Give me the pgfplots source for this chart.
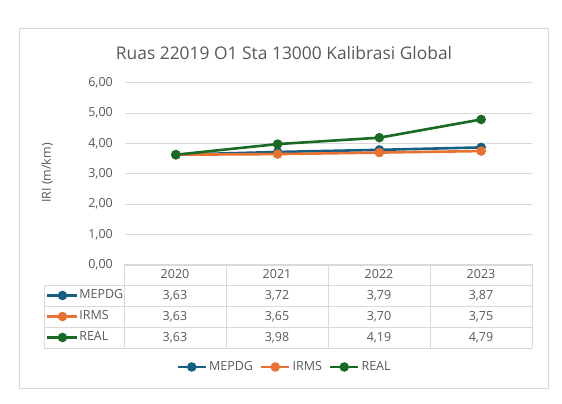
\documentclass[border=0pt]{standalone}
\usepackage{pgfplots}
\pgfplotsset{compat=1.18}
\usepackage{fontspec}
\setmainfont{Open Sans}
\definecolor{cblue}{HTML}{156082}
\definecolor{corange}{HTML}{E97132}
\definecolor{cgreen}{HTML}{196B24}
\definecolor{txt}{HTML}{595959}
\definecolor{grd}{HTML}{D9D9D9}
\newcommand{\fs}{\fontsize{12.5}{15}\selectfont}
\begin{document}
\begin{tikzpicture}[x=1pt,y=1pt]
\path[use as bounding box] (0,0) rectangle (562,404);
\draw[grd, line width=0.75pt, fill=white] (19,16) rectangle (548,376);
\node[txt, font=\fontsize{17.4}{20}\selectfont] at (284,351.5) {Ruas 22019 O1 Sta 13000 Kalibrasi Global};
\node[txt, font=\fs, rotate=90] at (47,231) {IRI (m/km)};
\begin{axis}[
  at={(125pt,139pt)}, anchor=south west,
  scale only axis, width=407pt, height=182.3pt,
  xmin=-0.5, xmax=3.5, ymin=0, ymax=6,
  xtick=\empty, ytick={0,1,2,3,4,5,6},
  yticklabels={{0,00},{1,00},{2,00},{3,00},{4,00},{5,00},{6,00}},
  axis line style={draw=none},
  ymajorgrids, grid style={grd, line width=0.75pt},
  major tick length=0pt,
  yticklabel style={txt, font=\fs, inner sep=0pt, xshift=-12pt},
  clip=false,
  legend columns=3,
  legend image code/.code={\draw[mark repeat=2,mark phase=2,#1] plot coordinates {(0pt,0pt)(14pt,0pt)(28pt,0pt)};},
  legend style={at={(0.392,-0.5595)}, anchor=center, draw=none, fill=none, font=\fs, text=txt,
    nodes={inner sep=2pt}, /tikz/every even column/.append style={column sep=5pt}},
  every axis plot/.append style={line width=2.6pt, mark=*, mark size=3.4pt},
]
\addplot[cblue, mark options={fill=cblue}] coordinates {(0,3.63) (1,3.72) (2,3.79) (3,3.87)};
\addlegendentry{MEPDG}
\addplot[corange, mark options={fill=corange}] coordinates {(0,3.63) (1,3.65) (2,3.70) (3,3.75)};
\addlegendentry{IRMS}
\addplot[cgreen, mark options={fill=cgreen}] coordinates {(0,3.63) (1,3.98) (2,4.19) (3,4.79)};
\addlegendentry{REAL}
\end{axis}
\begin{axis}[
  at={(125pt,139pt)}, anchor=south west,
  scale only axis, width=407pt, height=182.3pt,
  xmin=-0.5, xmax=3.5, ymin=0, ymax=6, hide axis,
  legend columns=1,
  legend image code/.code={\draw[mark repeat=2,mark phase=2,#1] plot coordinates {(0pt,0pt)(15pt,0pt)(30pt,0pt)};},
  legend style={at={(-0.1941,-0.2825)}, anchor=west, draw=none, fill=none, font=\fs, text=txt,
    inner sep=0pt, row sep=10pt, nodes={inner sep=0.5pt, text height=8.5pt, text depth=1.5pt}},
  legend cell align=left,
]
\addlegendimage{cblue, line width=2.6pt, mark=*, mark size=3.4pt, mark options={fill=cblue}}
\addlegendentry{MEPDG}
\addlegendimage{corange, line width=2.6pt, mark=*, mark size=3.4pt, mark options={fill=corange}}
\addlegendentry{IRMS}
\addlegendimage{cgreen, line width=2.6pt, mark=*, mark size=3.4pt, mark options={fill=cgreen}}
\addlegendentry{REAL}
\end{axis}
% data table
\begin{scope}[grd, line width=0.75pt]
\draw (124,140) -- (532,140);
\draw (44,119) -- (532,119);
\draw (44,98) -- (532,98);
\draw (44,77) -- (532,77);
\draw (44,56) -- (532,56);
\draw (44,119) -- (44,56);
\foreach \x in {124,226,328,430,532} {\draw (\x,140) -- (\x,56);}
\end{scope}
\begin{scope}[txt, font=\fs]
\node at (175,129.5) {2020};
\node at (277,129.5) {2021};
\node at (379,129.5) {2022};
\node at (481,129.5) {2023};
\node at (175,108.5) {3,63};
\node at (277,108.5) {3,72};
\node at (379,108.5) {3,79};
\node at (481,108.5) {3,87};
\node at (175,87.5) {3,63};
\node at (277,87.5) {3,65};
\node at (379,87.5) {3,70};
\node at (481,87.5) {3,75};
\node at (175,66.5) {3,63};
\node at (277,66.5) {3,98};
\node at (379,66.5) {4,19};
\node at (481,66.5) {4,79};
\end{scope}
\end{tikzpicture}
\end{document}
